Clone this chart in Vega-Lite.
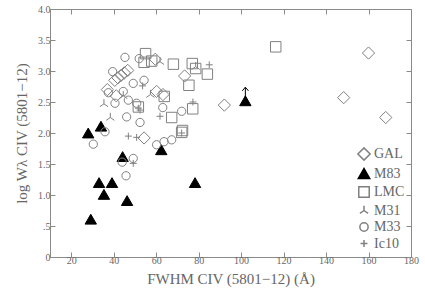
{
  "$schema": "https://vega.github.io/schema/vega-lite/v6.json",
  "width": 361,
  "height": 248,
  "autosize": {"type": "none"},
  "padding": {"left": 50, "top": 9, "right": 14, "bottom": 37},
  "background": "white",
  "config": {
    "view": {"stroke": "#8a8a8a", "strokeWidth": 1},
    "axis": {"domain": false, "grid": false, "labelFont": "Liberation Serif", "titleFont": "Liberation Serif", "labelColor": "#666", "titleColor": "#666", "tickColor": "#8a8a8a", "labelFontSize": 10, "titleFontSize": 15, "titleFontWeight": "normal"},
    "legend": {"labelFont": "Liberation Serif", "labelColor": "#666", "labelFontSize": 14}
  },
  "datasets": {
    "pts": [
      {"g": "GAL", "x": 160.0, "y": 3.29}, {"g": "GAL", "x": 92.1, "y": 2.45}, {"g": "GAL", "x": 148.3, "y": 2.57}, {"g": "GAL", "x": 168.1, "y": 2.25},
      {"g": "GAL", "x": 59.6, "y": 3.19}, {"g": "GAL", "x": 73.4, "y": 2.92}, {"g": "GAL", "x": 60.2, "y": 2.67}, {"g": "GAL", "x": 37.0, "y": 2.70},
      {"g": "GAL", "x": 41.2, "y": 2.60}, {"g": "GAL", "x": 54.3, "y": 1.92}, {"g": "GAL", "x": 40.5, "y": 2.85}, {"g": "GAL", "x": 42.0, "y": 2.89},
      {"g": "GAL", "x": 43.5, "y": 2.93}, {"g": "GAL", "x": 45.0, "y": 2.97}, {"g": "GAL", "x": 46.6, "y": 3.01}, {"g": "GAL", "x": 63.2, "y": 2.62},
      {"g": "M83", "x": 28.0, "y": 2.00}, {"g": "M83", "x": 34.0, "y": 2.11}, {"g": "M83", "x": 33.1, "y": 1.20}, {"g": "M83", "x": 39.2, "y": 1.20},
      {"g": "M83", "x": 35.4, "y": 1.01}, {"g": "M83", "x": 46.3, "y": 0.91}, {"g": "M83", "x": 29.2, "y": 0.61}, {"g": "M83", "x": 44.2, "y": 1.62},
      {"g": "M83", "x": 62.4, "y": 1.73}, {"g": "M83", "x": 78.3, "y": 1.20}, {"g": "M83", "x": 102.0, "y": 2.52},
      {"g": "LMC", "x": 116.3, "y": 3.39}, {"g": "LMC", "x": 55.0, "y": 3.28}, {"g": "LMC", "x": 57.9, "y": 3.16}, {"g": "LMC", "x": 54.3, "y": 3.14},
      {"g": "LMC", "x": 68.1, "y": 3.11}, {"g": "LMC", "x": 77.0, "y": 3.12}, {"g": "LMC", "x": 78.6, "y": 3.04}, {"g": "LMC", "x": 84.1, "y": 2.95},
      {"g": "LMC", "x": 75.4, "y": 2.77}, {"g": "LMC", "x": 63.8, "y": 2.59}, {"g": "LMC", "x": 67.3, "y": 2.25}, {"g": "LMC", "x": 77.2, "y": 2.39},
      {"g": "LMC", "x": 72.0, "y": 2.01}, {"g": "LMC", "x": 72.4, "y": 2.04}, {"g": "LMC", "x": 51.6, "y": 2.42},
      {"g": "M31", "x": 61.8, "y": 3.15}, {"g": "M31", "x": 78.6, "y": 3.07}, {"g": "M31", "x": 38.4, "y": 2.25}, {"g": "M31", "x": 35.4, "y": 2.47},
      {"g": "M31", "x": 57.3, "y": 2.62}, {"g": "M31", "x": 44.5, "y": 2.60},
      {"g": "M33", "x": 45.3, "y": 3.22}, {"g": "M33", "x": 52.0, "y": 3.20}, {"g": "M33", "x": 39.5, "y": 2.99}, {"g": "M33", "x": 49.2, "y": 2.80},
      {"g": "M33", "x": 54.3, "y": 2.85}, {"g": "M33", "x": 37.5, "y": 2.65}, {"g": "M33", "x": 44.5, "y": 2.67}, {"g": "M33", "x": 40.6, "y": 2.48},
      {"g": "M33", "x": 46.9, "y": 2.53}, {"g": "M33", "x": 50.8, "y": 2.48}, {"g": "M33", "x": 46.1, "y": 2.26}, {"g": "M33", "x": 52.4, "y": 2.17},
      {"g": "M33", "x": 63.1, "y": 2.41}, {"g": "M33", "x": 72.0, "y": 2.35}, {"g": "M33", "x": 35.9, "y": 2.02}, {"g": "M33", "x": 30.4, "y": 1.82},
      {"g": "M33", "x": 60.2, "y": 1.81}, {"g": "M33", "x": 63.7, "y": 1.86}, {"g": "M33", "x": 67.3, "y": 1.89}, {"g": "M33", "x": 44.0, "y": 1.53},
      {"g": "M33", "x": 49.2, "y": 1.59}, {"g": "M33", "x": 45.8, "y": 1.31},
      {"g": "Ic10", "x": 85.0, "y": 3.10}, {"g": "Ic10", "x": 53.6, "y": 2.76}, {"g": "Ic10", "x": 77.3, "y": 2.50}, {"g": "Ic10", "x": 61.8, "y": 2.27},
      {"g": "Ic10", "x": 46.9, "y": 1.95}, {"g": "Ic10", "x": 50.8, "y": 1.93}, {"g": "Ic10", "x": 52.4, "y": 2.37}, {"g": "Ic10", "x": 72.0, "y": 2.00},
      {"g": "Ic10", "x": 49.2, "y": 1.51}, {"g": "Ic10", "x": 51.6, "y": 2.40}
    ],
    "limits": [{"x": 102.0, "y": 2.64}]
  },
  "layer": [
    {
      "data": {"name": "pts"},
      "mark": {"type": "point", "filled": false, "strokeWidth": 1, "opacity": 1},
      "encoding": {
        "x": {"field": "x", "type": "quantitative", "scale": {"domain": [10, 180], "nice": false, "zero": false},
          "axis": {"orient": "bottom", "values": [20, 40, 60, 80, 100, 120, 140, 160, 180], "tickSize": -5, "labelPadding": 3, "title": "FWHM CIV (5801−12) (Å)", "titlePadding": 6, "labelFlush": false}},
        "y": {"field": "y", "type": "quantitative", "scale": {"domain": [0, 4], "nice": false, "zero": false},
          "axis": {"orient": "left", "values": [0, 0.5, 1, 1.5, 2, 2.5, 3, 3.5, 4], "tickSize": -5, "labelPadding": 5, "labelExpr": "datum.value == 0 ? '0' : datum.value == 0.5 ? '.5' : format(datum.value, '.1f')", "title": "log Wλ CIV (5801−12)", "titlePadding": 8, "labelFlush": false}},
        "shape": {"field": "g", "type": "nominal", "scale": {"domain": ["GAL", "M83", "LMC", "M31", "M33", "Ic10"], "range": ["diamond", "triangle-up", "square", "M0,0L0,-1M0,0L-0.87,0.6M0,0L0.87,0.6", "circle", "M-1,0L1,0M0,-1L0,1"]},
          "legend": {"title": null, "orient": "none", "legendX": 307, "legendY": 138, "rowPadding": 1.5, "labelOffset": 3, "padding": 0}},
        "fill": {"field": "g", "type": "nominal", "scale": {"domain": ["GAL", "M83", "LMC", "M31", "M33", "Ic10"], "range": ["transparent", "black", "transparent", "transparent", "transparent", "transparent"]}},
        "stroke": {"field": "g", "type": "nominal", "scale": {"domain": ["GAL", "M83", "LMC", "M31", "M33", "Ic10"], "range": ["#808080", "black", "#808080", "#808080", "#808080", "#808080"]}},
        "size": {"field": "g", "type": "nominal", "scale": {"domain": ["GAL", "M83", "LMC", "M31", "M33", "Ic10"], "range": [150, 48, 78, 100, 125, 110]}}
      }
    },
    {
      "data": {"name": "limits"},
      "mark": {"type": "point", "shape": "M0,1L0,-1M-0.5,-0.4L0,-1L0.5,-0.4", "filled": false, "stroke": "black", "strokeWidth": 1, "size": 150, "opacity": 1},
      "encoding": {
        "x": {"field": "x", "type": "quantitative", "axis": {"orient": "top", "values": [20, 40, 60, 80, 100, 120, 140, 160, 180], "tickSize": -5, "labels": false, "title": null}},
        "y": {"field": "y", "type": "quantitative", "axis": {"orient": "right", "values": [0, 0.5, 1, 1.5, 2, 2.5, 3, 3.5, 4], "tickSize": -5, "labels": false, "title": null}}
      }
    }
  ],
  "resolve": {"axis": {"x": "independent", "y": "independent"}}
}
